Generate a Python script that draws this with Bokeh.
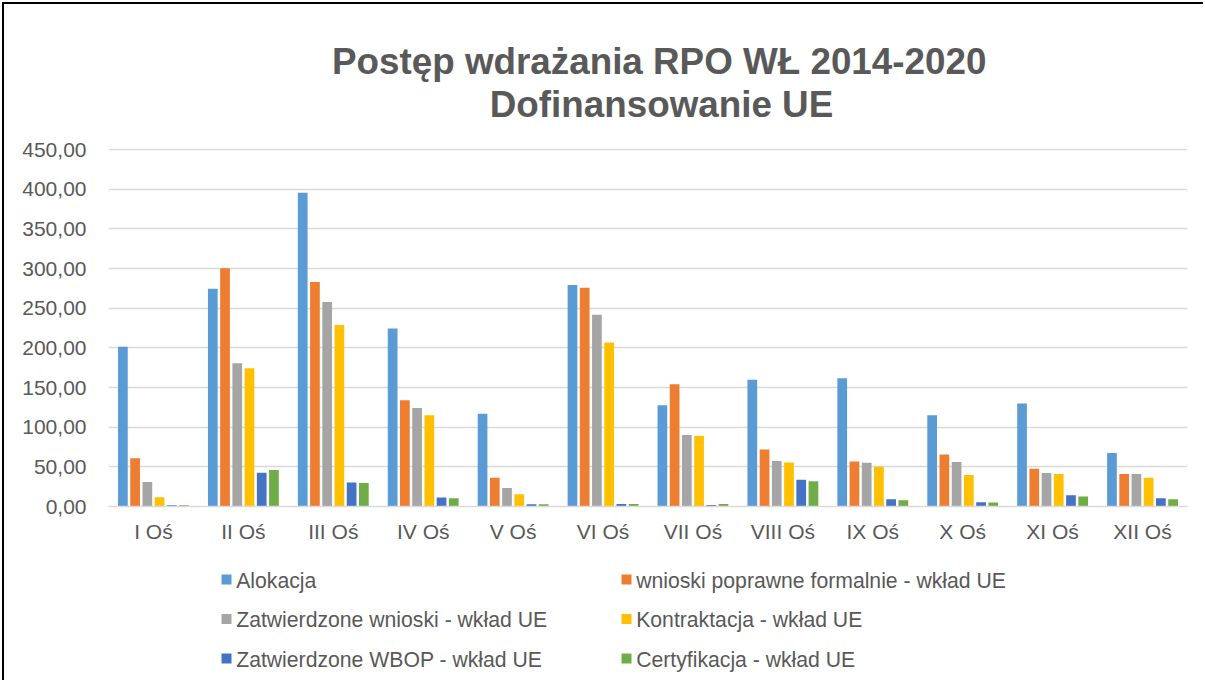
from bokeh.plotting import figure
from bokeh.models import ColumnDataSource, FactorRange, Range1d, FixedTicker
from bokeh.layouts import column
from bokeh.transform import dodge
from bokeh.core.properties import value
from bokeh.embed import file_html
from bokeh.resources import INLINE

categories = ["I Oś", "II Oś", "III Oś", "IV Oś", "V Oś", "VI Oś",
              "VII Oś", "VIII Oś", "IX Oś", "X Oś", "XI Oś", "XII Oś"]
alokacja = [201.4, 274.7, 395.6, 224.6, 117.1, 279.3, 127.7, 159.7, 161.8, 115.0, 129.8, 67.4]
wnioski = [60.7, 300.4, 283.1, 134.0, 36.2, 276.0, 154.2, 72.0, 56.9, 65.7, 47.6, 40.9]
zatwierdzone = [30.8, 180.8, 257.9, 124.3, 23.2, 241.9, 90.2, 57.3, 55.2, 56.0, 42.1, 40.9]
kontraktacja = [11.8, 174.4, 228.8, 115.0, 15.6, 206.9, 88.9, 55.6, 50.1, 39.6, 40.9, 36.2]
wbop = [1.5, 42.6, 30.3, 11.4, 2.9, 3.0, 2.0, 33.7, 9.3, 5.5, 14.3, 10.5]
certyfikacja = [1.5, 45.9, 29.5, 10.5, 2.9, 3.0, 3.0, 32.0, 8.0, 5.0, 12.6, 9.3]

series_names = ["Alokacja", "wnioski poprawne formalnie -  wkład UE",
                "Zatwierdzone wnioski - wkład UE", "Kontraktacja - wkład UE",
                "Zatwierdzone WBOP - wkład UE", "Certyfikacja - wkład UE"]
series_keys = ["alokacja", "wnioski", "zatwierdzone", "kontraktacja", "wbop", "certyfikacja"]
colors = ["#5B9BD5", "#ED7D31", "#A5A5A5", "#FFC000", "#4472C4", "#70AD47"]
y_ticks = [0, 50, 100, 150, 200, 250, 300, 350, 400, 450]
title_lines = ["Postęp wdrażania RPO WŁ 2014-2020", "Dofinansowanie UE"]

TXT = "#595959"
FONT = "Liberation Sans"
W = 1199
BL, BR = 104, 16          # left / right canvas borders, shared by all strips
FL, FR = BL, W - BR       # frame extent in canvas pixels


def blank(height):
    f = figure(width=W, height=height, x_range=Range1d(FL, FR), y_range=Range1d(height, 0),
               x_axis_type=None, y_axis_type=None, output_backend="svg",
               toolbar_location=None, min_border_left=BL, min_border_right=BR,
               min_border_top=0, min_border_bottom=0)
    f.grid.grid_line_color = None
    f.outline_line_color = None
    f.background_fill_color = "white"
    f.border_fill_color = "white"
    return f


# ---- title strip ----
tf = blank(130)
tf.text(x=[654.7, 657.0], y=[56.5, 99.9], text=title_lines,
        text_align="center", text_baseline="middle",
        text_font=value(FONT), text_font_style="bold",
        text_font_size=value("36.8px"), text_color=TXT)

# ---- main chart ----
source = ColumnDataSource(dict(cat=categories, alokacja=alokacja, wnioski=wnioski,
                               zatwierdzone=zatwierdzone, kontraktacja=kontraktacja,
                               wbop=wbop, certyfikacja=certyfikacja))

p = figure(x_range=FactorRange(*categories), y_range=Range1d(0, 451.5),
           width=W, height=412, output_backend="svg", toolbar_location=None,
           min_border_left=BL, min_border_right=BR, min_border_top=14, min_border_bottom=40)
p.outline_line_color = None
p.background_fill_color = "white"
p.border_fill_color = "white"

step = 0.136
bw = 0.108
for i, (key, col) in enumerate(zip(series_keys, colors)):
    p.vbar(x=dodge("cat", (i - 2.5) * step, range=p.x_range), top=key, width=bw,
           source=source, fill_color=col, line_color=None)

p.xgrid.grid_line_color = None
p.ygrid.grid_line_color = "#D9D9D9"
p.ygrid.grid_line_width = 1.3

p.yaxis.ticker = FixedTicker(ticks=y_ticks)
p.yaxis.major_label_overrides = {t: f"{t:.2f}".replace(".", ",") for t in y_ticks}
p.yaxis.axis_line_color = None
p.yaxis.major_tick_line_color = None
p.yaxis.minor_tick_line_color = None
p.yaxis.major_label_standoff = 16
p.yaxis.major_label_text_font = FONT
p.yaxis.major_label_text_font_size = "21px"
p.yaxis.major_label_text_color = TXT

p.xaxis.axis_line_color = "#D9D9D9"
p.xaxis.axis_line_width = 1.3
p.xaxis.major_tick_line_color = None
p.xaxis.minor_tick_line_color = None
p.xaxis.major_label_standoff = 7
p.xaxis.major_label_text_font = FONT
p.xaxis.major_label_text_font_size = "21px"
p.xaxis.major_label_text_color = TXT

# ---- legend strip ----
lf = blank(134)
n = len(series_names)
lx = [222 + (i % 2) * 400 for i in range(n)]
ly = [33 + (i // 2) * 39.5 for i in range(n)]
lf.rect(x=lx, y=ly, width=10, height=10, fill_color=colors, line_color=None)
lf.text(x=[v + 9.7 for v in lx], y=[v + 0.5 for v in ly], text=series_names,
        text_align="left", text_baseline="middle",
        text_font=value(FONT), text_font_size=value("21.2px"), text_color=TXT)

layout = column(tf, p, lf, spacing=0)
layout.styles = {"margin-left": "2px", "margin-top": "2px",
                 "border-left": "2px solid black", "border-top": "2px solid black"}

open("out.html", "w").write(file_html(layout, INLINE))
